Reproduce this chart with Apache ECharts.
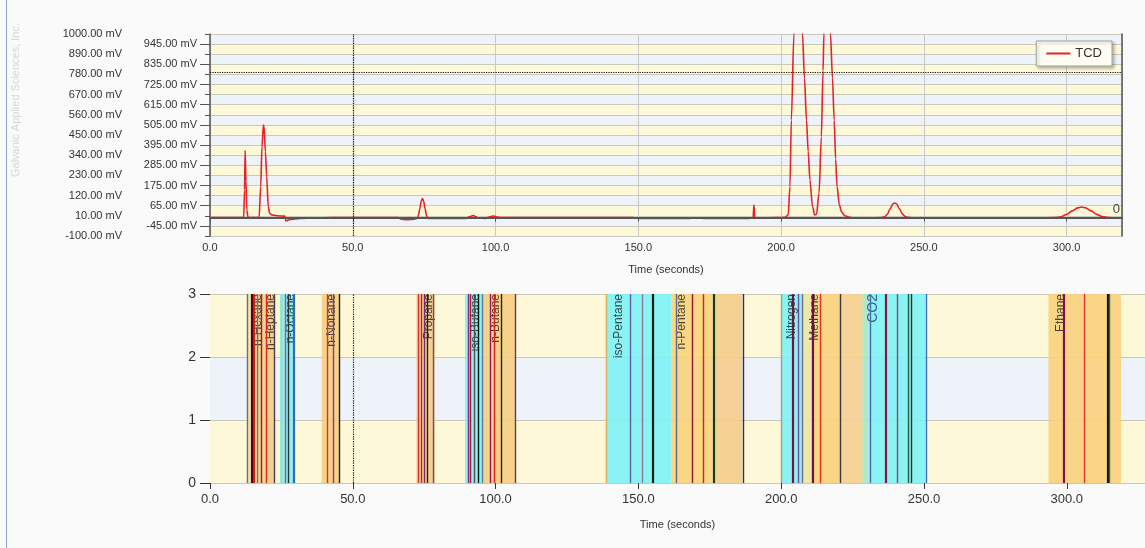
<!DOCTYPE html>
<html>
<head>
<meta charset="utf-8">
<title>TCD chromatogram</title>
<script src="https://cdn.jsdelivr.net/npm/echarts@6/dist/echarts.min.js"></script>
<style>
html, body { margin: 0; padding: 0; background: #fafafa; }
#chart { width: 1145px; height: 548px; }
</style>
</head>
<body>
<div id="chart"></div>
<script>
// TCD trace (seconds, mV)
var signalTime = [0, 5, 11.8, 12.1, 12.3, 12.6, 12.9, 13.3, 13.6, 17.2, 17.75, 18.2, 18.7, 18.9, 19.4, 19.85, 20.4, 20.9, 21.5, 23.5,
	26.2, 26.6, 28, 31.5, 36, 43, 66, 67, 69, 71.5, 72.6, 73.0, 73.5, 74.0, 74.4, 74.8, 75.3, 75.8, 76.2, 77,
	85, 89.5, 91.2, 92.2, 93.2, 94, 96.5, 98.2, 99.3, 100.5, 102, 130, 148, 150, 167, 170, 174, 188, 190.2, 190.5,
	190.8, 192, 199, 201.5, 202.5, 203.1, 203.6, 204.5, 205.2, 205.9, 206.7, 207.5, 208.2, 208.9, 209.5, 210.1, 211.0, 211.8, 212.4, 213.3,
	214.1, 214.7, 215.0, 215.6, 216.2, 216.8, 217.3, 218.0, 218.6, 219.1, 219.6, 220.4, 221.2, 222.3, 224, 226, 232, 235, 236.2, 237.2,
	238.2, 239.1, 239.8, 240.5, 241.4, 242.4, 243.4, 244.5, 246, 260, 290, 296, 298, 300, 302, 303.8, 305.2, 306.7, 308.5, 310.5,
	312.5, 314.5, 316, 319.5];
var signalMv = [0, 0, 0, 150, 365, 200, 40, 3, 0, 2, 169, 386, 504, 500, 360, 223, 60, 24, 15, 10,
	8, -18, -10, -4, -2, 0, 0, -8, -11, -8, -4, 15, 50, 92, 104, 92, 50, 12, -3, -5,
	-5, -4, 6, 12, 4, -3, -4, 5, 9, 3, 0, 0, 0, -4, -4, -1, -4, -4, -1, 69,
	-1, -1, 0, 2, 15, 169, 531, 1000, 1260, 1340, 1250, 1000, 760, 531, 360, 205, 60, 15, 18, 133,
	440, 800, 1000, 1220, 1290, 1210, 1000, 760, 531, 320, 169, 70, 30, 10, 2, -3, -3, 0, 4, 18,
	48, 74, 80, 74, 50, 22, 7, 1, -1, -1, -1, 0, 5, 17, 37, 53, 58, 53, 38, 18,
	6, 1, -1, -2];

// y axis tick labels of the trace panel
var outerTicks = [-100, 10, 120, 230, 340, 450, 560, 670, 780, 890, 1000];
var innerTicks = [-45, 65, 175, 285, 395, 505, 615, 725, 835, 945];

// cursor position
var cursorTime = 50;
var cursorMv = 791;

// peak windows (seconds)
var bandStart = [12.85, 16.56, 24.5, 39.1, 72.3, 89.3, 95.6, 138.6, 161.5, 176.0, 200.0, 207.5, 210.4, 220.6, 228.5, 230.5, 293.6];
var bandEnd = [16.56, 22.4, 29.8, 45.5, 78.7, 95.6, 106.8, 161.5, 176.0, 186.3, 207.5, 210.4, 220.6, 228.5, 230.5, 250.6, 319.0];
var bandColors = ['#f8e3a0', '#f7cd82', '#7df2f6', '#f7cd82', '#f5cc86', '#7df2f6', '#f7cd82', '#7df2f6', '#f9d27c', '#f3cd8c',
	'#7df2f6', '#e9e7a4', '#f9d07c', '#f5cf90', '#a6e8c4', '#7df2f6', '#f9d07c'];

// event markers (seconds)
var markTime = [13.06, 14.6, 15.16, 16.56, 18.1, 19.6, 22.4, 24.8, 26.3, 27.4, 29.4, 40.9, 43.0, 45.3,
	72.9, 74.1, 74.9, 75.9, 78.2, 90.5, 91.3, 92.4, 94.0, 95.5, 98.1, 99.6, 102.1, 106.8,
	138.7, 147.1, 151.2, 155.0, 163.2, 168.7, 172.7, 176.3, 186.6,
	200.2, 204.0, 206.0, 207.4, 211.0, 213.6, 220.6, 231.1, 236.7, 240.5, 244.5, 245.7, 250.7,
	299.0, 306.0, 314.2, 314.9];
var markColors = ['#5a6ab8', '#3a0a0a', '#d81818', '#707070', '#8c1c5c', '#d02828', '#4a3a5a', '#e0c860', '#b04a90', '#303030', '#3a68b0', '#d83030', '#8a3a7a', '#202020',
	'#d03040', '#c02030', '#7a2a6a', '#202020', '#6a4a8a', '#8a2a7a', '#a01838', '#505050', '#101010', '#5a7aa0', '#8a1a5a', '#d82020', '#1a2a10', '#5a3a6a',
	'#e0b060', '#6a5a9a', '#8a7a9a', '#102010', '#5a6a8a', '#8a1a2a', '#e02020', '#1a3a1a', '#3a2a4a',
	'#a0a090', '#7a1040', '#7a4a9a', '#7a6a8a', '#701040', '#e03020', '#3a3a3a', '#4a6ab0', '#901040', '#b03a6a', '#2a5a3a', '#303030', '#4a6ab0',
	'#801050', '#e03030', '#101010', '#2a6a2a'];
var heavyMarks = [14.6, 15.16, 29.4, 155.0, 176.3, 204.0, 211.0, 236.7, 299.0, 314.2];

// component names
var peakNames = ['n-Hexane', 'n-Heptane', 'n-Octane', 'n-Nonane', 'Propane', 'iso-Butane', 'n-Butane', 'iso-Pentane', 'n-Pentane', 'Nitrogen', 'Methane', 'CO2', 'Ethane'];
var peakLabelTime = [13.7, 18.2, 25.0, 39.4, 73.3, 89.8, 97.0, 140.0, 162.1, 200.7, 208.7, 228.7, 294.6];

var font = '"Liberation Sans", Arial, sans-serif';
var narrow = '"Liberation Sans Narrow", "Liberation Sans", Arial, sans-serif';
var bandYellow = '#fdf9d8';
var bandBlue = '#eef3fa';

var trace = [];
for (var i = 0; i < signalTime.length; i++) {
	trace.push([signalTime[i], signalMv[i]]);
}

var areas = [];
for (var i = 0; i < bandStart.length; i++) {
	areas.push([{ xAxis: bandStart[i], itemStyle: { color: bandColors[i], opacity: 0.9 } }, { xAxis: bandEnd[i] }]);
}

var marks = [];
for (var i = 0; i < markTime.length; i++) {
	marks.push({
		xAxis: markTime[i],
		lineStyle: { color: markColors[i], width: heavyMarks.indexOf(markTime[i]) >= 0 ? 2.2 : 1.4, type: 'solid', opacity: 1 }
	});
}

var labels = [];
for (var i = 0; i < peakNames.length; i++) {
	labels.push({
		value: [peakLabelTime[i], 3],
		name: peakNames[i],
		label: peakNames[i] == 'CO2' ? { fontSize: 14, color: '#2a3a6a' } : {}
	});
}

var chart = echarts.init(document.getElementById('chart'));
var option = {
	backgroundColor: '#fafafa',
	animation: false,
	textStyle: { fontFamily: font },
	graphic: [
		{
			type: 'text', x: 16, y: 100, rotation: Math.PI / 2,
			style: { text: 'Galvanic Applied Sciences, Inc.', fill: '#d6d6d6', font: '11px ' + font, align: 'center', verticalAlign: 'middle' }
		},
		{
			type: 'line', shape: { x1: 6.5, y1: 0, x2: 6.5, y2: 548 },
			style: { stroke: '#8aa8d0', lineWidth: 1 }
		}
	],
	legend: {
		data: ['TCD'],
		right: 33,
		top: 41,
		padding: [6, 10],
		icon: 'rect',
		itemWidth: 24,
		itemHeight: 2,
		itemGap: 6,
		backgroundColor: '#fffdf2',
		borderColor: '#a0a0a0',
		borderWidth: 1,
		shadowBlur: 3,
		shadowOffsetX: 2,
		shadowOffsetY: 2,
		shadowColor: 'rgba(0,0,0,0.25)',
		textStyle: { fontSize: 13, color: '#333', fontFamily: font }
	},
	grid: [
		{ left: 210, top: 34, right: 23, height: 202, outerBoundsMode: 'none' },
		{ left: 210, top: 294, right: 0, height: 189, outerBoundsMode: 'none' }
	],
	xAxis: [
		{
			gridIndex: 0, type: 'value', min: 0, max: 319.4, interval: 50,
			name: 'Time (seconds)', nameLocation: 'middle', nameGap: 28,
			nameTextStyle: { fontSize: 11, color: '#333', fontFamily: narrow },
			axisLine: { show: true, lineStyle: { color: '#555', width: 1.5 } },
			axisTick: { show: true, length: 4, lineStyle: { color: '#555' } },
			axisLabel: { show: true, showMaxLabel: false, fontSize: 11, color: '#333', margin: 6, fontFamily: narrow,
				formatter: function (v) { return v.toFixed(1); } },
			splitLine: { show: true, lineStyle: { color: '#c8c8c8', width: 1 } }
		},
		{
			gridIndex: 0, type: 'value', position: 'top', min: 0, max: 319.4,
			axisLine: { show: true, lineStyle: { color: '#555', width: 1.5 } },
			axisTick: { show: false }, axisLabel: { show: false }, splitLine: { show: false }
		},
		{
			gridIndex: 1, type: 'value', min: 0, max: 327.4, interval: 50,
			name: 'Time (seconds)', nameLocation: 'middle', nameGap: 36,
			nameTextStyle: { fontSize: 11, color: '#333', fontFamily: narrow },
			axisLine: { show: false },
			axisTick: { show: true, length: 6, lineStyle: { color: '#333' } },
			axisLabel: { show: true, showMaxLabel: false, fontSize: 13, color: '#333', margin: 10,
				formatter: function (v) { return v.toFixed(1); } },
			splitLine: { show: false }
		}
	],
	yAxis: [
		{
			gridIndex: 0, type: 'value', position: 'left', min: -100, max: 1000, interval: 55,
			axisLine: { show: true, lineStyle: { color: '#555', width: 1.5 } },
			axisTick: { show: true, length: 5, lineStyle: { color: '#555' } },
			axisLabel: { show: false },
			splitLine: { show: true, lineStyle: { color: '#c9c9bd', width: 1 } },
			splitArea: { show: true, areaStyle: { color: [bandYellow, bandBlue] } }
		},
		{
			gridIndex: 0, type: 'value', position: 'left', min: -100, max: 1000,
			axisLine: { show: false },
			axisTick: { show: true, length: 10, customValues: innerTicks, lineStyle: { color: '#555' } },
			axisLabel: { show: true, customValues: innerTicks, fontSize: 11, color: '#333', margin: 13,
				formatter: function (v) { return v.toFixed(2) + ' mV'; } },
			splitLine: { show: false }
		},
		{
			gridIndex: 0, type: 'value', position: 'left', min: -100, max: 1000, offset: 82,
			axisLine: { show: false },
			axisTick: { show: false },
			axisLabel: { show: true, customValues: outerTicks, fontSize: 11, color: '#333', margin: 6,
				formatter: function (v) { return v.toFixed(2) + ' mV'; } },
			splitLine: { show: false }
		},
		{
			gridIndex: 0, type: 'value', position: 'right', min: -100, max: 1000,
			axisLine: { show: true, lineStyle: { color: '#555', width: 1.5 } },
			axisTick: { show: false }, axisLabel: { show: false }, splitLine: { show: false }
		},
		{
			gridIndex: 1, type: 'value', position: 'left', min: 0, max: 3, interval: 1,
			axisLine: { show: false },
			axisTick: { show: true, length: 10, lineStyle: { color: '#333' } },
			axisLabel: { show: true, fontSize: 14, color: '#333', margin: 14 },
			splitLine: { show: true, lineStyle: { color: '#c8c8b8', width: 1 } },
			splitArea: { show: true, areaStyle: { color: [bandYellow, bandBlue, bandYellow] } }
		}
	],
	series: [
		{
			// zero line and cursor, under the trace
			type: 'line', xAxisIndex: 0, yAxisIndex: 0, data: [], z: 1, silent: true,
			markLine: {
				symbol: ['none', 'none'], silent: true, animation: false,
				data: [
					{ yAxis: 0, lineStyle: { color: '#555', width: 2, type: 'solid' },
						label: { show: true, position: 'insideEndTop', formatter: '0', fontSize: 13, color: '#444', distance: 2 } },
					{ xAxis: cursorTime, lineStyle: { color: '#111', width: 1.2, type: 'dotted' }, label: { show: false } },
					{ yAxis: cursorMv, lineStyle: { color: '#111', width: 1.2, type: 'dotted' }, label: { show: false } }
				]
			}
		},
		{
			name: 'TCD', type: 'line', xAxisIndex: 0, yAxisIndex: 0, z: 3,
			data: trace, symbol: 'none', showSymbol: false, clip: true,
			smooth: 0.3, smoothMonotone: 'x',
			lineStyle: { color: '#e4222a', width: 1.6 },
			itemStyle: { color: '#e4222a' }
		},
		{
			type: 'line', xAxisIndex: 2, yAxisIndex: 4, data: [], silent: true,
			markArea: { silent: true, data: areas },
			markLine: {
				symbol: ['none', 'none'], silent: true, animation: false,
				label: { show: false },
				data: marks.concat([{ xAxis: cursorTime, lineStyle: { color: '#111', width: 1.2, type: 'dotted' } }])
			}
		},
		{
			type: 'scatter', xAxisIndex: 2, yAxisIndex: 4, data: labels, silent: true,
			symbol: 'circle', symbolSize: 0.1, itemStyle: { color: 'rgba(0,0,0,0)' },
			label: {
				show: true, formatter: '{b}', position: 'inside', rotate: 90,
				align: 'right', verticalAlign: 'top', offset: [0, 3],
				fontSize: 12, color: '#1a1a1a', fontFamily: font
			}
		}
	]
};
chart.setOption(option);
</script>
</body>
</html>
